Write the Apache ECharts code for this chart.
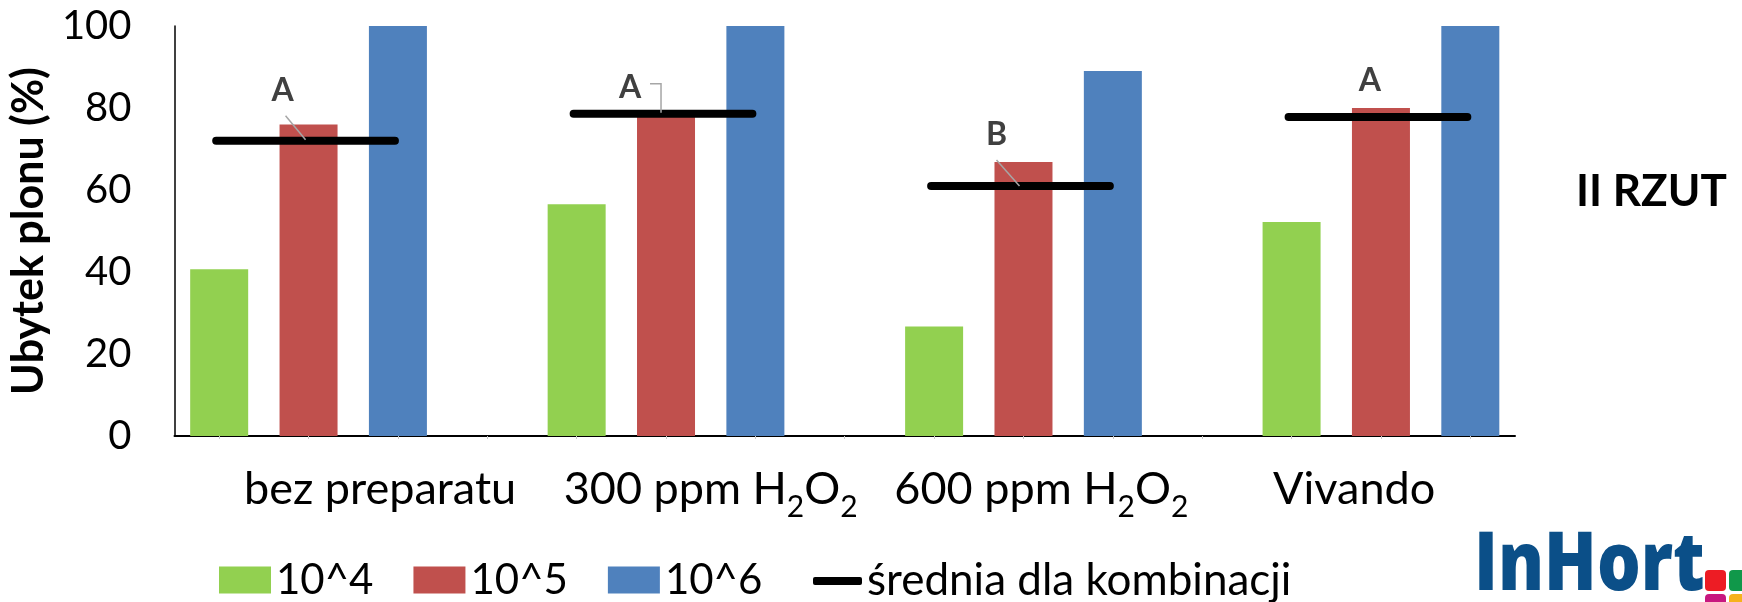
<!DOCTYPE html>
<html><head><meta charset="utf-8">
<script src="https://cdn.jsdelivr.net/npm/echarts@6/dist/echarts.min.js"></script>
<style>html,body{margin:0;padding:0;background:#fff}#c{width:1742px;height:602px}</style>
</head><body><div id="c"></div>
<script>
// ---------------- data ----------------
const groups = ['bez preparatu', '300 ppm H2O2', '600 ppm H2O2', 'Vivando'];
const seriesNames = ['10^4', '10^5', '10^6'];
const v4 = [40.7, 56.5, 26.7, 52.2];
const v5 = [76.0, 78.0, 66.8, 80.0];
const v6 = [100, 100, 89.0, 100];
const meanName = 'średnia dla kombinacji';
const means = [72.0, 78.6, 61.0, 77.8];
const letters = ['A', 'A', 'B', 'A'];
const yTicks = [0, 20, 40, 60, 80, 100];
const yTitle = 'Ubytek plonu (%)';
const sideNote = 'II RZUT';

// ---------------- layout ----------------
const PER = 4, NUM_SLOTS = 15;             // 3 bars + 1 gap per group
const labelPos = [1.8, 5.5, 9.2, 12.7];    // category label centres (slot units)
const letterOff = [[-26, -50], [-36, -26], [-27, -51], [-11, -36]];
const leaderPts = [
  [[-23, -25], [-3, -1]],
  [[-16, -30], [-5, -30], [-5, -1]],
  [[-27, -26], [-4, 0]],
  null
];
const FONT = 'Lato, "Open Sans", sans-serif';
const colors = ['#92d050', '#c0504d', '#4f81bd'];

const slots = Array.from({length: NUM_SLOTS}, (_, i) => 's' + i);
function place(vals, offset) {
  const arr = new Array(NUM_SLOTS).fill(null);
  vals.forEach((v, g) => { arr[g * PER + offset] = v; });
  return arr;
}
const barData = [v4, v5, v6];

function fmtGroup(name) {
  if (name.indexOf('H2O2') >= 0) {
    const pre = name.replace('H2O2', 'H');
    return '{n|' + pre + '}{s|2}{n|O}{s|2}';
  }
  return '{n|' + name + '}';
}

const chart = echarts.init(document.getElementById('c'), null, {renderer: 'canvas'});
chart.setOption({
  animation: false,
  backgroundColor: '#fff',
  textStyle: {fontFamily: FONT},
  grid: {left: 174, right: 227, top: 26, bottom: 166},
  xAxis: [
    {
      type: 'category', data: slots,
      axisLine: {show: true, onZero: false, lineStyle: {color: '#000', width: 2}},
      axisTick: {show: true, alignWithLabel: true, interval: 0, length: 3, lineStyle: {color: '#c8c8c8'}},
      axisLabel: {show: false},
      splitLine: {show: false}
    },
    {
      type: 'value', min: -0.5, max: NUM_SLOTS - 0.5, position: 'bottom',
      axisLine: {show: false, onZero: false}, axisTick: {show: false}, splitLine: {show: false},
      axisLabel: {
        show: true, customValues: labelPos, margin: 22,
        formatter: function (v) {
          let idx = -1;
          labelPos.forEach((p, i) => { if (Math.abs(p - v) < 1e-6) idx = i; });
          return idx >= 0 ? fmtGroup(groups[idx]) : '';
        },
        rich: {
          n: {fontSize: 45, color: '#000', fontFamily: FONT, lineHeight: 54, verticalAlign: 'bottom'},
          s: {fontSize: 30, color: '#000', fontFamily: FONT, lineHeight: 30, verticalAlign: 'bottom', padding: [0, 0, -10, 0]}
        }
      }
    }
  ],
  yAxis: {
    type: 'value',
    min: yTicks[0], max: yTicks[yTicks.length - 1], interval: yTicks[1] - yTicks[0],
    axisLine: {show: true, onZero: false, lineStyle: {color: '#000', width: 1.5}},
    axisTick: {show: false},
    splitLine: {show: false},
    axisLabel: {fontSize: 40, color: '#000', margin: 43, fontFamily: FONT},
    name: yTitle, nameLocation: 'middle', nameRotate: 90, nameGap: 112,
    nameTextStyle: {fontSize: 43, fontWeight: 'bold', color: '#000', fontFamily: FONT}
  },
  legend: [
    {
      data: seriesNames, left: 214, top: 554, orient: 'horizontal',
      itemWidth: 52, itemHeight: 27, itemGap: 40, icon: 'rect', selectedMode: false,
      textStyle: {fontSize: 42, color: '#000', fontFamily: FONT}
    },
    {
      data: [meanName], left: 808, top: 554,
      itemWidth: 49, itemHeight: 8, icon: 'roundRect', selectedMode: false,
      textStyle: {fontSize: 44, color: '#000', fontFamily: FONT}
    }
  ],
  series: seriesNames.map((nm, k) => ({
    name: nm, type: 'bar', xAxisIndex: 0,
    data: place(barData[k], k),
    barWidth: 58, barGap: '-100%',
    itemStyle: {color: colors[k]}
  })).concat([{
    name: meanName, type: 'custom', xAxisIndex: 0,
    itemStyle: {color: '#000'},
    data: means.map((m, g) => [g * PER + 1, m]),
    encode: {x: 0, y: 1},
    z: 5,
    renderItem: function (params, api) {
      const g = params.dataIndex;
      const p = api.coord([api.value(0), api.value(1)]);
      const w = api.size([1, 0])[0];
      const kids = [{
        type: 'line',
        shape: {x1: p[0] - w - 3, y1: p[1], x2: p[0] + w - 3, y2: p[1]},
        style: {stroke: '#000', lineWidth: 8, lineCap: 'round'}
      }];
      const lp = leaderPts[g];
      if (lp) {
        kids.push({
          type: 'polyline',
          shape: {points: lp.map(q => [p[0] + q[0], p[1] + q[1]])},
          style: {stroke: '#a6a6a6', lineWidth: 1.5, fill: null}
        });
      }
      kids.push({
        type: 'text',
        style: {
          text: letters[g], x: p[0] + letterOff[g][0], y: p[1] + letterOff[g][1],
          textAlign: 'center', textVerticalAlign: 'middle',
          font: 'bold 32px ' + FONT, fill: '#404040'
        }
      });
      return {type: 'group', children: kids};
    }
  }]),
  graphic: [
    {
      type: 'text', left: 1576, top: 170,
      style: {text: sideNote, font: 'bold 44px ' + FONT, fill: '#000'}
    },
    {
      type: 'text', x: 1474, y: 526, scaleX: 0.84,
      style: {text: 'InHort', font: '800 82px "Open Sans", sans-serif', fill: '#0b4f88', textAlign: 'left', textVerticalAlign: 'top'}
    },
    {type: 'rect', shape: {x: 1705, y: 570, width: 21, height: 21, r: 4}, style: {fill: '#ed1c24'}},
    {type: 'rect', shape: {x: 1729, y: 570, width: 21, height: 21, r: 4}, style: {fill: '#10984a'}},
    {type: 'rect', shape: {x: 1705, y: 594, width: 21, height: 21, r: 4}, style: {fill: '#c8177f'}},
    {type: 'rect', shape: {x: 1729, y: 594, width: 21, height: 21, r: 4}, style: {fill: '#f6b21b'}}
  ]
});
</script>
</body></html>
